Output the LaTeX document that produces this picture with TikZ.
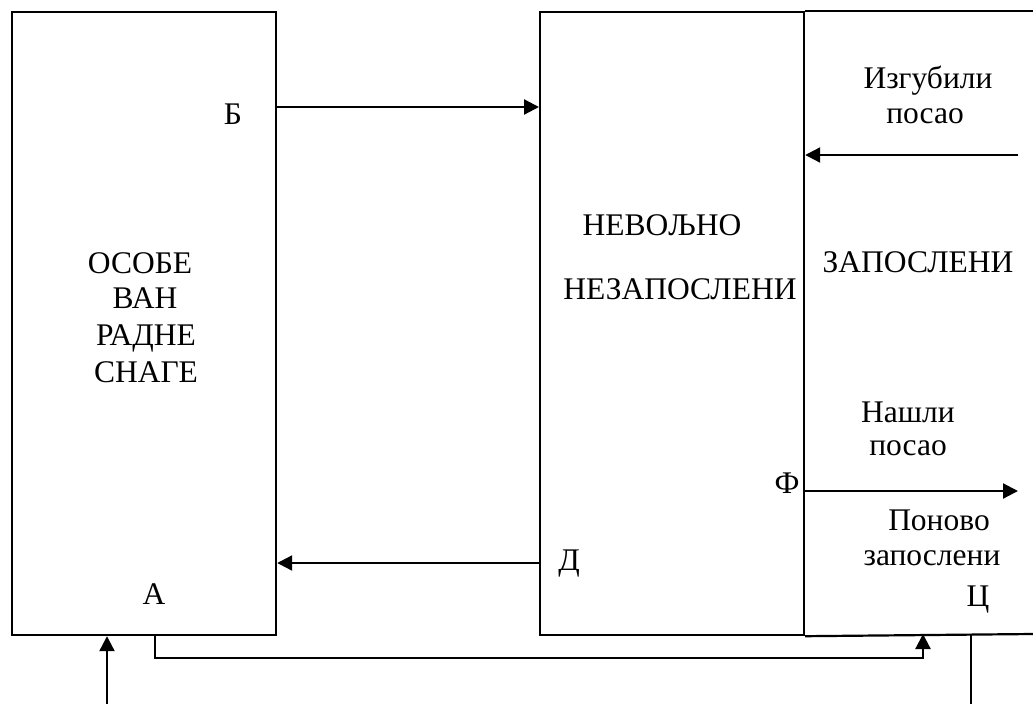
\documentclass[tikz,border=0pt]{standalone}
\usepackage{fontspec}
\setmainfont{Liberation Serif}
\usetikzlibrary{arrows.meta}
\begin{document}
\begin{tikzpicture}[x=1pt,y=-1pt,
  frame/.style={draw, line width=2.2pt, inner sep=0pt, anchor=north west,
    minimum width=264pt, minimum height=623pt},
  link/.style={line width=2.2pt},
  arr/.style={link, -{Triangle[length=15pt,width=15pt]}},
  lbl/.style={font=\fontsize{31.5}{37}\selectfont, anchor=base, inner sep=0pt}]
\useasboundingbox (0,0) rectangle (1033,704);

% boxes
\node[frame] (outside) at (11,11) {};
\node[frame] (invol) at (539,11) {};
\coordinate (empNE) at (1033,11);
\coordinate (empSE) at (1033,634);
\draw[link] (invol.north east) -- (empNE);
\draw[link] (invol.south east) -- (empSE);

% free ends of the flows
\coordinate (lostEnd) at (1018,155);
\coordinate (foundEnd) at (1018,491);
\coordinate (inflow) at (107,704);
\coordinate (outflow) at (971,704);
\coordinate (reEntry) at (923,634);

% flows
\draw[arr] (outside.east |- 0,107) -- (invol.west |- 0,107);
\draw[arr] (lostEnd) -- (invol.east |- lostEnd);
\draw[arr] (invol.east |- foundEnd) -- (foundEnd);
\draw[arr] (invol.west |- 0,563) -- (outside.east |- 0,563);
\draw[arr] (outside.south -| 155,0) -- (155,658) -| (reEntry);
\draw[arr] (inflow) -- (inflow |- outside.south);
\draw[link] (outflow |- empSE) -- (outflow);

% labels
\node[lbl] (lB) at (233,124) {Б};
\node[lbl] (o1) at (140,273) {ОСОБЕ};
\node[lbl] (o2) at (145,308) {ВАН};
\node[lbl] (o3) at (146,345) {РАДНЕ};
\node[lbl] (o4) at (146,382) {СНАГЕ};
\node[lbl] (n1) at (662,235) {НЕВОЉНО};
\node[lbl] (n2) at (680,299) {НЕЗАПОСЛЕНИ};
\node[lbl] (z1) at (918,272) {ЗАПОСЛЕНИ};
\node[lbl] (i1) at (928,88) {Изгубили};
\node[lbl] (i2) at (925,123) {посао};
\node[lbl] (h1) at (908,422) {Нашли};
\node[lbl] (h2) at (908,455) {посао};
\node[lbl] (lF) at (787,493) {Ф};
\node[lbl] (p1) at (939,530) {Поново};
\node[lbl] (p2) at (932,565) {запослени};
\node[lbl] (lD) at (569,570) {Д};
\node[lbl] (lA) at (154,604) {А};
\node[lbl] (lC) at (978,606) {Ц};
\end{tikzpicture}
\end{document}
